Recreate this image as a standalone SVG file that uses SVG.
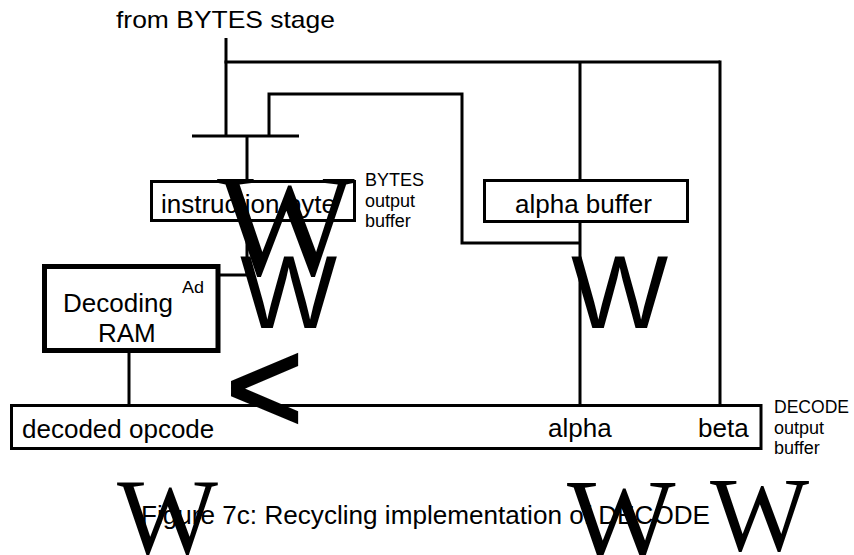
<svg xmlns="http://www.w3.org/2000/svg" width="854" height="555" viewBox="0 0 854 555">
<style>
.ln{fill:none;stroke:#000;stroke-width:3}
.box{fill:#fff;stroke:#000;stroke-width:3}
.t{font-family:"Liberation Sans",Arial,sans-serif;fill:#000}
.big{font-family:"Liberation Sans",Arial,sans-serif;fill:#000}
.bigs{font-family:"Liberation Serif","Times New Roman",serif;fill:#000}
</style>
<rect width="854" height="555" fill="#fff"/>
<g id="connectors">
<line class="ln" x1="226" y1="38" x2="226" y2="136"/>
<line class="ln" x1="224.5" y1="62" x2="720" y2="62"/>
<line class="ln" x1="580" y1="62" x2="580" y2="405"/>
<line class="ln" x1="720" y1="60.5" x2="720" y2="405"/>
<polyline class="ln" points="269,136 269,94 462,94 462,243 580,243"/>
<line class="ln" x1="192" y1="136" x2="299" y2="136"/>
<line class="ln" x1="247" y1="136" x2="247" y2="180"/>
<polyline class="ln" points="247,222 247,275 220,275"/>
<line class="ln" x1="129" y1="353" x2="129" y2="405"/>
</g>
<g id="label-from">
<text class="t" x="116" y="28" font-size="24" textLength="219" lengthAdjust="spacingAndGlyphs">from BYTES stage</text>
</g>
<g id="instruction-byte">
<rect class="box" x="151.5" y="181.5" width="203" height="39"/>
<text class="t" x="161" y="213" font-size="26">instruction byte</text>
</g>
<g id="bytes-output-buffer">
<text class="t" x="365" y="186" font-size="18">BYTES</text>
<text class="t" x="365" y="207" font-size="18">output</text>
<text class="t" x="365" y="227" font-size="18">buffer</text>
</g>
<g id="alpha-buffer">
<rect class="box" x="484.5" y="180.5" width="203" height="41"/>
<text class="t" x="515" y="213" font-size="26">alpha buffer</text>
</g>
<g id="decoding-ram">
<rect x="44.5" y="266.5" width="173.5" height="84" fill="#fff" stroke="#000" stroke-width="5"/>
<text class="t" x="63" y="312" font-size="26">Decoding</text>
<text class="t" x="98" y="342" font-size="26">RAM</text>
<text class="t" x="182" y="293" font-size="17" textLength="22" lengthAdjust="spacingAndGlyphs">Ad</text>
</g>
<g id="decode-output">
<rect class="box" x="11.5" y="405.5" width="749.5" height="43"/>
<text class="t" x="22" y="438" font-size="26">decoded opcode</text>
<text class="t" x="548" y="437" font-size="26">alpha</text>
<text class="t" x="698" y="437" font-size="26">beta</text>
</g>
<g id="decode-output-buffer">
<text class="t" x="774" y="413" font-size="18" textLength="75" lengthAdjust="spacingAndGlyphs">DECODE</text>
<text class="t" x="774" y="434" font-size="18">output</text>
<text class="t" x="774" y="454" font-size="18">buffer</text>
</g>
<g id="caption">
<text class="t" x="141" y="524" font-size="26" textLength="569" lengthAdjust="spacingAndGlyphs">Figure 7c: Recycling implementation of DECODE</text>
</g>
<g id="glyphs">
<text class="bigs" x="217" y="275" font-size="146">W</text>
<text class="big" x="240" y="328" font-size="103">W</text>
<text class="big" x="571" y="328" font-size="103">W</text>
<text class="big" x="226" y="432" font-size="132" stroke="#000" stroke-width="3">&lt;</text>
<text class="bigs" x="117" y="553" font-size="107">W</text>
<text class="bigs" x="567" y="558" font-size="115">W</text>
<text class="bigs" x="710" y="550" font-size="105">W</text>
</g>
</svg>
